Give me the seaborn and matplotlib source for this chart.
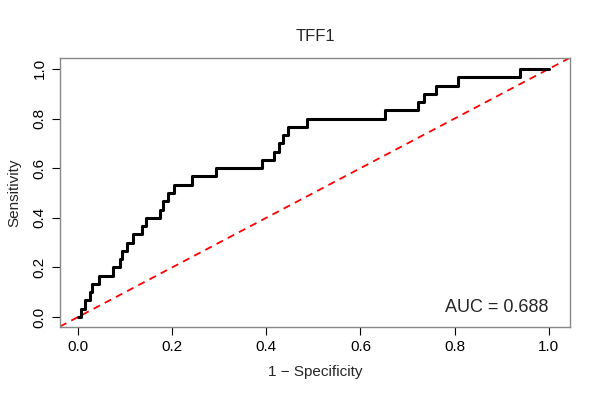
import numpy as np
import pandas as pd
import seaborn as sns
import matplotlib.pyplot as plt

# ROC step corners: false positive rate where each step up happens, sensitivity after it
fpr = [0.0, 0.006, 0.016, 0.025, 0.030, 0.044, 0.074, 0.089, 0.093, 0.104, 0.117,
       0.137, 0.144, 0.174, 0.180, 0.192, 0.204, 0.243, 0.294, 0.390, 0.416, 0.426,
       0.435, 0.446, 0.486, 0.652, 0.722, 0.736, 0.760, 0.807, 0.938, 1.0]
tpr = [0.0, 0.033, 0.067, 0.100, 0.133, 0.167, 0.200, 0.233, 0.267, 0.300, 0.333,
       0.367, 0.400, 0.433, 0.467, 0.500, 0.533, 0.567, 0.600, 0.633, 0.667, 0.700,
       0.733, 0.767, 0.800, 0.833, 0.867, 0.900, 0.933, 0.967, 1.0, 1.0]
auc_label = "AUC = 0.688"
title = "TFF1"

df = pd.DataFrame({"fpr": fpr, "tpr": tpr})

sns.set_style("white")
plt.rcParams['font.family'] = ['Liberation Sans', 'DejaVu Sans']

fig = plt.figure(figsize=(6, 4), dpi=100)
ax = fig.add_axes([0.1, 0.1825, 0.85, 0.6725])

sns.lineplot(data=df, x="fpr", y="tpr", sort=False, color="black", linewidth=2.2,
             drawstyle="steps-post", ax=ax)
# reference diagonal spans the whole panel, like abline
ax.axline((0, 0), (1, 1), color="red", linestyle=(0, (4, 3)), linewidth=1.3, zorder=1)

ax.set_xlim(-0.038, 1.045)
ax.set_ylim(-0.04, 1.044)
ticks = [0.0, 0.2, 0.4, 0.6, 0.8, 1.0]
ax.set_xticks(ticks)
ax.set_yticks(ticks)
ax.set_yticklabels([f"{t:.1f}" for t in ticks], rotation=90, va="center")
ax.tick_params(direction="out", length=6, width=0.8, colors="black", labelsize=11,
               bottom=True, left=True)
for s in ax.spines.values():
    s.set_color("#888888")
    s.set_linewidth(1)

ax.set_xlabel("1 \u2212 Specificity", fontsize=11, labelpad=8)
ax.set_ylabel("Sensitivity", fontsize=11, labelpad=8)
ax.set_title(title, fontsize=12, pad=12)
ax.text(1.0, 0.04, auc_label, ha="right", va="center", fontsize=13)

fig.savefig("out.png", dpi=100)
